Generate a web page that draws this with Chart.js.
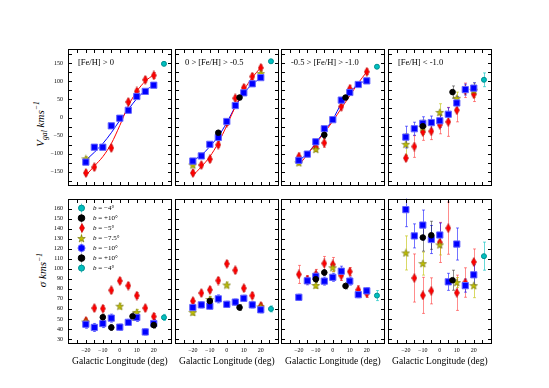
<!DOCTYPE html>
<html>
<head>
<meta charset="utf-8">
<script src="https://cdn.jsdelivr.net/npm/chart.js@4.4.0/dist/chart.umd.min.js"></script>
<style>
  body { margin: 0; background: #fff; }
  #fig { position: relative; width: 549px; height: 388px; overflow: hidden; background: #fff; }
  #fig canvas { position: absolute; }
  .ylab {
    position: absolute;
    transform: translate(-50%, -50%) rotate(-90deg);
    font: italic 11px "Liberation Serif", serif;
    white-space: nowrap;
    line-height: 1;
    color: #000;
  }
  .ylab sub, .ylab sup { font-size: 70%; }
</style>
</head>
<body>
<div id="fig">
  <div class="ylab" style="left:41px;top:124px">V<sub>gal</sub> kms<sup>&minus;1</sup></div>
  <div class="ylab" style="left:42px;top:270px">&sigma; kms<sup>&minus;1</sup></div>
</div>
<script>
// Galactic longitude of each field (deg)
const lon = [-20, -15, -10, -5, 0, 5, 10, 15, 20];
const lonBlack = [-10, -5, 7.5, 20];
const lonCyan = [26];
const binLabels = ['[Fe/H] > 0', '0 > [Fe/H] > -0.5', '-0.5 > [Fe/H] > -1.0', '[Fe/H] < -1.0'];

// Mean velocity (km/s), one row per [Fe/H] bin
const vBlue = [
  [-123, -82, -82, -23, -2, 20, 58, 72, 89],
  [-120, -106, -74, -55, -11, 33, 68, 93, 110],
  [-118, -101, -67, -31, -6, 48, 69, 91, 101],
  [-54, -31, -16, -14, -9, 9, 40, 77, 81]
];
const vBlueErr = [
  [4, 4, 4, 4, 4, 4, 4, 4, 4],
  [4, 4, 4, 4, 4, 4, 4, 4, 4],
  [5, 5, 5, 5, 5, 5, 5, 5, 5],
  [30, 18, 18, 18, 18, 18, 18, 15, 15]
];
const vRed = [
  [-153, -137, null, -84, null, 43, 72, 104, 116],
  [-153, -131, -115, -75, -14, 53, 82, 113, 137],
  [-108, null, -82, -70, null, 30, 79, null, 126],
  [-112, -80, -40, -38, -20, -12, 20, 75, 64]
];
const vRedErr = [
  [8, 8, 0, 8, 0, 8, 8, 8, 8],
  [8, 8, 8, 8, 8, 8, 8, 8, 8],
  [10, 0, 10, 12, 0, 10, 10, 0, 8],
  [8, 30, 23, 23, 25, 40, 32, 20, 20]
];
const vStar = [
  [-114, null, null, null, null, null, null, null, null],
  [-131, null, null, null, null, null, null, null, 121],
  [-125, null, -88, null, null, null, null, null, null],
  [-74, null, -27, null, 14, null, 53, null, 75]
];
const vStarErr = [
  [6, 0, 0, 0, 0, 0, 0, 0, 0],
  [6, 0, 0, 0, 0, 0, 0, 0, 6],
  [6, 0, 6, 0, 0, 0, 0, 0, 0],
  [30, 0, 20, 0, 24, 0, 17, 0, 20]
];
const vBlack = [
  [null, null, null, null],
  [null, -42, 55, null],
  [null, -48, 55, null],
  [-24, null, 70, null]
];
const vBlackErr = [[0, 0, 0, 0], [0, 6, 6, 0], [0, 10, 6, 0], [15, 0, 17, 0]];
const vCyan = [[148], [155], [140], [104]];
const vCyanErr = [[5], [5], [5], [19]];
// model curves through the b=-5 and b=-10 fields
const vRedFit = [
  [-160, -134, -108, -72, -22, 32, 72, 100, 118],
  [-160, -136, -108, -70, -22, 30, 75, 110, 138],
  [-132, -102, -72, -42, -10, 25, 60, 95, 126],
  null
];
const vBlueFit = [
  [-118, -96, -72, -42, -8, 22, 52, 74, 90],
  [-118, -104, -80, -52, -14, 30, 66, 92, 108],
  [-118, -100, -70, -38, -5, 38, 70, 92, 102],
  null
];

// Velocity dispersion (km/s)
const sBlue = [
  [44.7, 41.5, 45.4, 50.8, 41.8, 46.6, 51.5, 37, 45.4],
  [61.4, 64, 62.7, 70, 64.6, 66.8, 70.6, 64, 59.1],
  [71.6, 88, 92.5, 87.7, 91.5, 97.6, 87.7, 74.2, 78],
  [159, 132.8, 143.6, 129.2, 133.7, 87, 124.7, 83.2, 94]
];
const sBlueErr = [
  [4, 4, 4, 4, 3, 3, 4, 3, 4],
  [3, 3, 3, 4, 3, 3, 3, 3, 3],
  [3, 4, 4, 4, 4, 5, 4, 3, 3],
  [17, 12, 15, 14, 12, 8.5, 16, 6.5, 10]
];
const sRed = [
  [48, 60.8, 60.3, 78.6, 88, 83.2, 73.3, 60.8, 52.4],
  [67.8, 75.8, 79, 88.3, 105, 98.5, 80.6, 73.3, 63],
  [94.4, 89.3, 94.4, 105.3, 104.3, 93.3, 97.2, 79, 75.5],
  [null, 90.8, 73.5, 78, 126.3, 140.5, 76.1, 86.3, 106.8]
];
const sRedErr = [
  [3, 3, 3, 3, 3, 3, 3, 3, 3],
  [3, 3, 3, 3, 3, 3, 3, 3, 3],
  [9, 4, 5, 7, 7, 5, 4, 4, 4],
  [0, 24, 18, 13, 20, 26, 17.6, 14.7, 13]
];
const sStar = [
  [47, null, null, null, 62.7, null, 56.5, null, null],
  [56.5, null, 69.4, null, 83.8, null, null, null, 62],
  [null, null, 83.4, null, 101, null, null, null, null],
  [115.8, null, 105.2, null, 123.8, null, 86.3, null, 83.2]
];
const sStarErr = [
  [3, 0, 0, 0, 3, 0, 3, 0, 0],
  [3, 0, 3, 0, 3, 0, 0, 0, 3],
  [0, 0, 3, 0, 4, 0, 0, 0, 0],
  [17, 0, 11.5, 0, 10, 0, 5, 0, 12]
];
const sBlack = [
  [51.7, 41.5, 52.6, 43.8],
  [67.8, null, 61.4, null],
  [89.6, 96.3, 82.9, null],
  [131.2, 133.4, 88.6, null]
];
const sBlackErr = [[3, 3, 4, 3], [3, 0, 3, 0], [3, 3, 3, 0], [13.6, 14, 10, 0]];
const sCyan = [[51.5], [60], [73.3], [112.6]];
const sCyanErr = [[3], [3], [5], [14]];

const legendEntries = [
  ['cyan', '\u22124\u00b0'], ['black', '+10\u00b0'], ['red', '\u22125\u00b0'], ['star', '\u22127.5\u00b0'],
  ['blue', '\u221210\u00b0'], ['black', '+10\u00b0'], ['cyan', '\u22124\u00b0']
];

const SERIF = '"Liberation Serif", "DejaVu Serif", serif';
const minus = v => String(v).replace('-', '\u2212');

// marker images
function thinDiamond() {
  const c = document.createElement('canvas');
  c.width = 6; c.height = 10;
  const g = c.getContext('2d');
  g.beginPath();
  g.moveTo(3, 0.5); g.lineTo(5.5, 5); g.lineTo(3, 9.5); g.lineTo(0.5, 5); g.closePath();
  g.fillStyle = '#ff0000'; g.fill();
  g.strokeStyle = '#b00000'; g.lineWidth = 0.6; g.stroke();
  return c;
}
function starMarker() {
  const c = document.createElement('canvas');
  c.width = 9; c.height = 9;
  const g = c.getContext('2d');
  g.beginPath();
  for (let k = 0; k < 10; k++) {
    const r = k % 2 ? 1.6 : 4;
    const a = -Math.PI / 2 + k * Math.PI / 5;
    const px = 4.5 + r * Math.cos(a), py = 4.8 + r * Math.sin(a);
    k ? g.lineTo(px, py) : g.moveTo(px, py);
  }
  g.closePath();
  g.fillStyle = '#bfbf00'; g.fill();
  g.strokeStyle = '#6b6b00'; g.lineWidth = 0.6; g.stroke();
  return c;
}

const styles = {
  red:   { pointStyle: thinDiamond(), radius: 4, bg: '#ff0000', border: '#b00000', err: 'rgba(255,0,0,0.45)', order: 5 },
  star:  { pointStyle: starMarker(), radius: 4, bg: '#bfbf00', border: '#6b6b00', err: 'rgba(191,191,0,0.6)', order: 4 },
  blue:  { pointStyle: 'rect', radius: 4.4, bg: '#0000ff', border: '#6464ff', err: 'rgba(0,0,255,0.55)', order: 3 },
  black: { pointStyle: 'circle', radius: 2.8, bg: '#000000', border: '#000000', err: 'rgba(0,0,0,0.45)', order: 2 },
  cyan:  { pointStyle: 'circle', radius: 2.5, bg: '#00bfbf', border: '#008f8f', err: 'rgba(0,191,191,0.6)', order: 1 }
};

function series(key, xs, ys, es) {
  const st = styles[key];
  const data = [];
  xs.forEach((x, i) => { if (ys[i] != null) data.push({ x: x, y: ys[i], e: es[i] }); });
  return {
    data: data,
    pointStyle: st.pointStyle,
    pointRadius: st.radius,
    pointBackgroundColor: st.bg,
    pointBorderColor: st.border,
    pointBorderWidth: 1,
    errColor: st.err,
    order: st.order,
    showLine: false
  };
}
function fitLine(ys, color) {
  return {
    data: lon.map((x, i) => ({ x: x, y: ys[i] })),
    showLine: true, pointRadius: 0, borderColor: color, borderWidth: 1,
    cubicInterpolationMode: 'monotone', order: 10
  };
}

const errorBars = {
  id: 'errorBars',
  beforeDatasetsDraw(chart) {
    const { ctx, chartArea: a, scales: { x, y } } = chart;
    ctx.save();
    ctx.beginPath(); ctx.rect(a.left, a.top, a.width, a.height); ctx.clip();
    ctx.lineWidth = 1;
    chart.data.datasets.forEach(ds => {
      if (!ds.errColor) return;
      ctx.strokeStyle = ds.errColor;
      ds.data.forEach(p => {
        if (!p.e) return;
        const px = Math.round(x.getPixelForValue(p.x)) + 0.5;
        const y0 = y.getPixelForValue(p.y - p.e), y1 = y.getPixelForValue(p.y + p.e);
        ctx.beginPath();
        ctx.moveTo(px, y0); ctx.lineTo(px, y1);
        ctx.moveTo(px - 1.5, y0); ctx.lineTo(px + 1.5, y0);
        ctx.moveTo(px - 1.5, y1); ctx.lineTo(px + 1.5, y1);
        ctx.stroke();
      });
    });
    ctx.restore();
  }
};

const frame = {
  id: 'frame',
  afterDraw(chart) {
    const { ctx, chartArea: a, scales: { x, y } } = chart;
    const L = Math.round(a.left) + 0.5, R = Math.round(a.right) - 0.5;
    const T = Math.round(a.top) + 0.5, B = Math.round(a.bottom) - 0.5;
    ctx.save();
    ctx.strokeStyle = '#000'; ctx.lineWidth = 1;
    ctx.strokeRect(L, T, R - L, B - T);
    ctx.beginPath();
    x.ticks.forEach(t => {
      const px = Math.round(x.getPixelForValue(t.value)) + 0.5;
      ctx.moveTo(px, B); ctx.lineTo(px, B - 3.5);
      ctx.moveTo(px, T); ctx.lineTo(px, T + 3.5);
    });
    y.ticks.forEach(t => {
      const py = Math.round(y.getPixelForValue(t.value)) + 0.5;
      ctx.moveTo(L, py); ctx.lineTo(L + 3.5, py);
      ctx.moveTo(R, py); ctx.lineTo(R - 3.5, py);
    });
    ctx.stroke();
    // panel annotation
    const txt = chart.options.plugins.frame && chart.options.plugins.frame.text;
    if (txt) {
      ctx.fillStyle = '#000';
      ctx.font = '8.5px ' + SERIF;
      ctx.textBaseline = 'middle';
      ctx.fillText(txt, a.left + 10, a.top + 14.5);
    }
    ctx.restore();
  }
};

const legendBox = {
  id: 'legendBox',
  afterDraw(chart) {
    const { ctx, chartArea: a } = chart;
    ctx.save();
    legendEntries.forEach(([key, lab], i) => {
      const st = styles[key];
      const x = a.left + 13, y = a.top + 9.5 + i * 10;
      ctx.strokeStyle = st.err; ctx.lineWidth = 1;
      ctx.beginPath(); ctx.moveTo(x + 0.5, y - 4.5); ctx.lineTo(x + 0.5, y + 4.5); ctx.stroke();
      if (typeof st.pointStyle === 'object') {
        ctx.drawImage(st.pointStyle, Math.round(x - st.pointStyle.width / 2 + 0.5), Math.round(y - st.pointStyle.height / 2));
      } else {
        ctx.beginPath(); ctx.arc(x + 0.5, y, key === 'blue' ? 3.5 : st.radius + 0.5, 0, Math.PI * 2);
        ctx.fillStyle = st.bg; ctx.fill();
        ctx.strokeStyle = st.border; ctx.stroke();
      }
      ctx.fillStyle = '#000';
      ctx.textBaseline = 'middle';
      ctx.font = 'italic 7px ' + SERIF;
      ctx.fillText('b', a.left + 25, y);
      const bw = ctx.measureText('b').width;
      ctx.font = '7px ' + SERIF;
      ctx.fillText(' = ' + lab, a.left + 25 + bw, y);
    });
    ctx.restore();
  }
};

const colLeft = [68, 175, 281, 388];
const fig = document.getElementById('fig');

function makePanel(row, col) {
  const top = row === 0 ? 43 : 193;
  const h = row === 0 ? 150 : 151;
  const xh = row === 0 ? 2 : 30;
  const cv = document.createElement('canvas');
  cv.width = 141; cv.height = 3 + h + xh;
  cv.style.left = (colLeft[col] - 32) + 'px';
  cv.style.top = (top - 3) + 'px';
  fig.appendChild(cv);

  const datasets = [];
  if (row === 0) {
    if (vRedFit[col]) datasets.push(fitLine(vRedFit[col], '#ff0000'));
    if (vBlueFit[col]) datasets.push(fitLine(vBlueFit[col], '#0000ff'));
    datasets.push(series('red', lon, vRed[col], vRedErr[col]));
    datasets.push(series('star', lon, vStar[col], vStarErr[col]));
    datasets.push(series('blue', lon, vBlue[col], vBlueErr[col]));
    datasets.push(series('black', lonBlack, vBlack[col], vBlackErr[col]));
    datasets.push(series('cyan', lonCyan, vCyan[col], vCyanErr[col]));
  } else {
    datasets.push(series('red', lon, sRed[col], sRedErr[col]));
    datasets.push(series('star', lon, sStar[col], sStarErr[col]));
    datasets.push(series('blue', lon, sBlue[col], sBlueErr[col]));
    datasets.push(series('black', lonBlack, sBlack[col], sBlackErr[col]));
    datasets.push(series('cyan', lonCyan, sCyan[col], sCyanErr[col]));
  }

  const yTicks = [];
  if (row === 0) { for (let v = -175; v <= 175; v += 25) yTicks.push(v); }
  else { for (let v = 30; v <= 170; v += 10) yTicks.push(v); }
  const xTicks = [];
  for (let v = -25; v <= 25; v += 5) xTicks.push(v);

  const plugins = [errorBars, frame];
  if (row === 1 && col === 0) plugins.push(legendBox);

  new Chart(cv, {
    type: 'scatter',
    data: { datasets: datasets },
    options: {
      responsive: false,
      animation: false,
      events: [],
      layout: { padding: { top: 3, right: 3, left: 0, bottom: 0 } },
      plugins: {
        legend: { display: false },
        tooltip: { enabled: false },
        frame: { text: row === 0 ? binLabels[col] : '' }
      },
      scales: {
        x: {
          type: 'linear', min: -30.5, max: 30.5,
          grid: { display: false, drawTicks: false },
          border: { display: false },
          afterBuildTicks: s => { s.ticks = xTicks.map(v => ({ value: v })); },
          afterFit: s => { s.height = xh; },
          ticks: {
            autoSkip: false, maxRotation: 0, minRotation: 0, padding: 3, color: '#000',
            font: { family: SERIF, size: 6 },
            callback: v => (row === 1 && v % 10 === 0 && Math.abs(v) <= 20) ? minus(v) : ''
          },
          title: {
            display: row === 1, text: 'Galactic Longitude (deg)', color: '#000',
            font: { family: SERIF, size: 9.5 }, padding: { top: 0, bottom: 7 }
          }
        },
        y: {
          type: 'linear',
          min: row === 0 ? -190 : 25, max: row === 0 ? 190 : 170,
          grid: { display: false, drawTicks: false },
          border: { display: false },
          afterBuildTicks: s => { s.ticks = yTicks.map(v => ({ value: v })); },
          afterFit: s => { s.width = 32; },
          ticks: {
            autoSkip: false, padding: 5, color: '#000',
            font: { family: SERIF, size: 6 },
            callback: v => {
              if (col !== 0) return '';
              if (row === 0) return (v % 50 === 0 && Math.abs(v) <= 150) ? minus(v) : '';
              return v <= 160 ? String(v) : '';
            }
          }
        }
      }
    },
    plugins: plugins
  });
}

for (let r = 0; r < 2; r++) for (let c = 0; c < 4; c++) makePanel(r, c);
</script>
</body>
</html>
